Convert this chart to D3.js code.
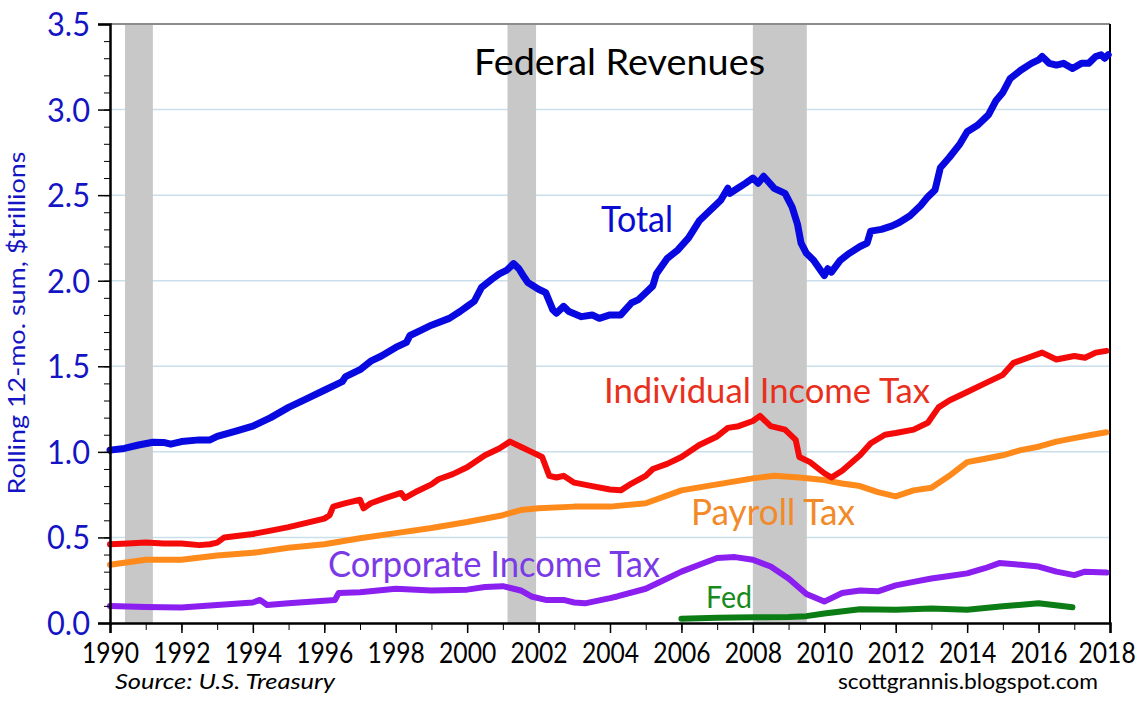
<!DOCTYPE html>
<html>
<head>
<meta charset="utf-8">
<script src="https://cdn.jsdelivr.net/npm/d3@7"></script>
<style>
  html, body { margin: 0; padding: 0; background: #ffffff; }
  svg { display: block; }
  text { font-family: Lato, "Open Sans", sans-serif; }
</style>
</head>
<body>
<svg id="chart" width="1142" height="714"></svg>
<script>
// ---------------- DATA ----------------
const title = "Federal Revenues";
const yAxisTitle = "Rolling 12-mo. sum, $trillions";
const sourceText = "Source:  U.S. Treasury";
const creditText = "scottgrannis.blogspot.com";

const yTickValues = [0, 0.5, 1.0, 1.5, 2.0, 2.5, 3.0, 3.5];
const yTickLabels = ["0.0", "0.5", "1.0", "1.5", "2.0", "2.5", "3.0", "3.5"];
const xTickYears = [1990, 1992, 1994, 1996, 1998, 2000, 2002, 2004, 2006, 2008, 2010, 2012, 2014, 2016, 2018];

const recessions = [[1990.42, 1991.2], [2001.13, 2001.93], [2008.0, 2009.51]];

// [year, $trillions]
const totalRevenue = [
  [1990.0,1.01],[1990.4,1.02],[1990.8,1.04],[1991.2,1.056],[1991.5,1.055],[1991.7,1.045],
  [1992.0,1.06],[1992.5,1.07],[1992.8,1.07],[1993.0,1.09],[1993.5,1.12],[1994.0,1.15],
  [1994.5,1.20],[1995.0,1.26],[1995.5,1.31],[1996.0,1.36],[1996.3,1.39],[1996.5,1.41],
  [1996.6,1.44],[1997.0,1.48],[1997.3,1.53],[1997.6,1.56],[1998.0,1.61],[1998.3,1.64],
  [1998.4,1.68],[1998.7,1.71],[1999.0,1.74],[1999.5,1.78],[1999.8,1.82],[2000.0,1.85],
  [2000.2,1.88],[2000.4,1.96],[2000.7,2.01],[2000.9,2.04],[2001.1,2.06],[2001.3,2.10],
  [2001.45,2.07],[2001.6,2.02],[2001.7,1.99],[2002.0,1.95],[2002.2,1.93],[2002.4,1.83],
  [2002.5,1.81],[2002.7,1.85],[2002.85,1.82],[2003.2,1.79],[2003.5,1.80],[2003.7,1.78],
  [2004.0,1.80],[2004.3,1.80],[2004.6,1.87],[2004.8,1.89],[2005.0,1.93],[2005.2,1.97],
  [2005.3,2.04],[2005.6,2.13],[2005.9,2.18],[2006.2,2.25],[2006.5,2.35],[2006.8,2.41],
  [2007.1,2.47],[2007.3,2.54],[2007.35,2.51],[2007.5,2.53],[2007.8,2.57],[2008.0,2.60],
  [2008.15,2.57],[2008.3,2.61],[2008.6,2.54],[2008.9,2.51],[2009.1,2.43],[2009.25,2.33],
  [2009.35,2.22],[2009.5,2.16],[2009.7,2.12],[2009.9,2.06],[2010.0,2.03],[2010.1,2.07],
  [2010.2,2.05],[2010.45,2.12],[2010.7,2.16],[2011.0,2.20],[2011.2,2.22],[2011.3,2.29],
  [2011.6,2.30],[2011.9,2.32],[2012.1,2.34],[2012.4,2.38],[2012.7,2.44],[2012.9,2.49],
  [2013.1,2.53],[2013.25,2.66],[2013.5,2.72],[2013.8,2.80],[2014.0,2.87],[2014.3,2.91],
  [2014.5,2.95],[2014.6,2.97],[2014.8,3.05],[2015.0,3.10],[2015.2,3.18],[2015.5,3.23],
  [2015.8,3.27],[2016.0,3.29],[2016.1,3.31],[2016.3,3.27],[2016.5,3.26],[2016.7,3.27],
  [2016.95,3.24],[2017.2,3.27],[2017.4,3.27],[2017.6,3.31],[2017.75,3.32],[2017.85,3.30],
  [2017.95,3.32]
];

const individualIncomeTax = [
  [1990.0,0.46],[1990.5,0.465],[1991.0,0.47],[1991.5,0.465],[1992.0,0.465],[1992.5,0.455],
  [1992.8,0.46],[1993.0,0.47],[1993.2,0.50],[1993.6,0.51],[1994.0,0.52],[1994.5,0.54],
  [1995.0,0.56],[1995.5,0.585],[1996.0,0.61],[1996.15,0.63],[1996.25,0.68],[1996.6,0.70],
  [1997.0,0.72],[1997.1,0.67],[1997.3,0.70],[1997.7,0.73],[1998.0,0.75],[1998.15,0.76],
  [1998.25,0.73],[1998.6,0.77],[1999.0,0.81],[1999.2,0.84],[1999.6,0.87],[2000.0,0.91],
  [2000.5,0.98],[2000.9,1.02],[2001.2,1.06],[2001.5,1.03],[2001.8,1.00],[2002.1,0.97],
  [2002.3,0.86],[2002.5,0.85],[2002.7,0.86],[2003.0,0.82],[2003.5,0.80],[2004.0,0.78],
  [2004.3,0.775],[2004.6,0.815],[2005.0,0.86],[2005.2,0.90],[2005.6,0.93],[2006.0,0.97],
  [2006.5,1.04],[2007.0,1.09],[2007.3,1.14],[2007.6,1.15],[2008.0,1.18],[2008.2,1.21],
  [2008.5,1.15],[2008.9,1.13],[2009.2,1.07],[2009.3,0.97],[2009.6,0.94],[2010.0,0.875],
  [2010.2,0.85],[2010.5,0.89],[2011.0,0.98],[2011.3,1.05],[2011.7,1.10],[2012.0,1.11],
  [2012.5,1.13],[2012.9,1.17],[2013.2,1.26],[2013.5,1.30],[2014.0,1.35],[2014.5,1.40],
  [2015.0,1.45],[2015.3,1.52],[2015.7,1.55],[2016.1,1.58],[2016.5,1.54],[2017.0,1.56],
  [2017.3,1.55],[2017.6,1.58],[2017.9,1.59]
];

const payrollTax = [
  [1990.0,0.34],[1991.0,0.37],[1992.0,0.37],[1993.0,0.395],[1994.0,0.41],[1995.0,0.44],
  [1996.0,0.46],[1997.0,0.495],[1998.0,0.525],[1999.0,0.555],[2000.0,0.59],[2001.0,0.63],
  [2001.5,0.66],[2002.0,0.67],[2003.0,0.68],[2004.0,0.68],[2005.0,0.70],[2006.0,0.775],
  [2007.0,0.81],[2008.0,0.845],[2008.6,0.86],[2009.3,0.85],[2010.0,0.835],[2010.5,0.815],
  [2011.0,0.80],[2011.5,0.765],[2012.0,0.74],[2012.5,0.775],[2013.0,0.79],[2013.5,0.86],
  [2014.0,0.94],[2014.5,0.96],[2015.0,0.98],[2015.5,1.01],[2016.0,1.03],[2016.5,1.06],
  [2017.0,1.08],[2017.5,1.10],[2017.9,1.115]
];

const corporateIncomeTax = [
  [1990.0,0.10],[1991.0,0.093],[1992.0,0.09],[1993.0,0.105],[1994.0,0.12],[1994.2,0.135],
  [1994.4,0.105],[1995.0,0.115],[1996.0,0.13],[1996.3,0.135],[1996.4,0.175],[1997.0,0.18],
  [1998.0,0.20],[1999.0,0.19],[2000.0,0.195],[2000.5,0.21],[2001.0,0.215],[2001.5,0.19],
  [2001.8,0.155],[2002.2,0.135],[2002.7,0.135],[2003.0,0.12],[2003.3,0.115],[2004.0,0.145],
  [2004.2,0.155],[2005.0,0.20],[2005.5,0.25],[2006.0,0.30],[2006.5,0.34],[2007.0,0.38],
  [2007.5,0.385],[2008.0,0.37],[2008.5,0.33],[2009.0,0.26],[2009.5,0.17],[2010.0,0.125],
  [2010.5,0.175],[2011.0,0.19],[2011.5,0.185],[2012.0,0.22],[2012.5,0.24],[2013.0,0.26],
  [2013.5,0.275],[2014.0,0.29],[2014.5,0.32],[2014.9,0.35],[2015.5,0.34],[2016.0,0.33],
  [2016.5,0.30],[2017.0,0.28],[2017.3,0.30],[2017.9,0.295]
];

const fedRemittances = [
  [2006.0,0.025],[2007.0,0.03],[2008.0,0.033],[2009.0,0.035],[2009.5,0.04],[2010.0,0.055],
  [2011.0,0.08],[2012.0,0.078],[2013.0,0.085],[2014.0,0.078],[2015.0,0.098],[2016.0,0.115],
  [2016.95,0.092]
];

// ---------------- CHART ----------------
const svg = d3.select("#chart");
const x = d3.scaleLinear().domain([1990, 2018]).range([110, 1110]);
const y = d3.scaleLinear().domain([0, 3.5]).range([623, 24]);

const blueText = "#1414c4";

// gridlines
svg.append("g").selectAll("line")
  .data(yTickValues.filter(v => v > 0 && v < 3.5))
  .join("line")
  .attr("x1", x(1990)).attr("x2", x(2018))
  .attr("y1", d => y(d)).attr("y2", d => y(d))
  .attr("stroke", "#c9e0ec").attr("stroke-width", 1.5);

// recession bars
svg.append("g").selectAll("rect")
  .data(recessions)
  .join("rect")
  .attr("x", d => x(d[0]))
  .attr("width", d => x(d[1]) - x(d[0]))
  .attr("y", y(3.5))
  .attr("height", y(0) - y(3.5))
  .attr("fill", "#c8c8c8");

// frame: top gray, right black
svg.append("line").attr("x1", x(1990)).attr("x2", x(2018)).attr("y1", y(3.5)).attr("y2", y(3.5))
  .attr("stroke", "#8c8c8c").attr("stroke-width", 2);
svg.append("line").attr("x1", x(2018)).attr("x2", x(2018)).attr("y1", y(3.5)).attr("y2", y(0))
  .attr("stroke", "#000").attr("stroke-width", 2);

// lines
const line = d3.line().x(d => x(d[0])).y(d => y(d[1])).curve(d3.curveLinear);
const series = [
  { data: totalRevenue, color: "#0808e0", width: 7 },
  { data: payrollTax, color: "#ff8a1c", width: 6 },
  { data: individualIncomeTax, color: "#f50a0a", width: 6 },
  { data: corporateIncomeTax, color: "#8a1ff0", width: 6 },
  { data: fedRemittances, color: "#0c7c14", width: 6 }
];
svg.append("g").selectAll("path")
  .data(series)
  .join("path")
  .attr("d", d => line(d.data))
  .attr("fill", "none")
  .attr("stroke", d => d.color)
  .attr("stroke-width", d => d.width)
  .attr("stroke-linejoin", "round")
  .attr("stroke-linecap", "round");

// y axis minor ticks
const yMinor = d3.axisLeft(y).tickValues(d3.range(0, 3.5001, 0.1)).tickSize(6).tickFormat("");
svg.append("g").attr("transform", `translate(${x(1990)},0)`).call(yMinor)
  .call(g => g.select(".domain").remove())
  .call(g => g.selectAll("line").attr("stroke", "#000").attr("stroke-width", 1));

// y axis major
const yAxis = d3.axisLeft(y).tickValues(yTickValues).tickSize(12).tickPadding(8)
  .tickFormat((d, i) => yTickLabels[i]);
svg.append("g").attr("transform", `translate(${x(1990)},0)`).call(yAxis)
  .call(g => g.select(".domain").attr("stroke", "#000").attr("stroke-width", 2.5))
  .call(g => g.selectAll(".tick line").attr("stroke", "#000").attr("stroke-width", 1.5))
  .call(g => g.selectAll(".tick text")
    .attr("fill", blueText)
    .style("font-size", "32px")
    .style("font-family", "Lato, sans-serif")
    .attr("dy", "0.36em")
    .attr("textLength", 43)
    .attr("lengthAdjust", "spacingAndGlyphs"));

// x axis minor
const xMinor = d3.axisBottom(x).tickValues(d3.range(1990, 2019, 1)).tickSize(7).tickFormat("");
svg.append("g").attr("transform", `translate(0,${y(0)})`).call(xMinor)
  .call(g => g.select(".domain").remove())
  .call(g => g.selectAll("line").attr("stroke", "#000").attr("stroke-width", 1));

// x axis major (labels horizontally condensed with a scale transform)
const xAxis = d3.axisBottom(x).tickValues(xTickYears).tickSize(10).tickFormat(d3.format("d"));
svg.append("g").attr("transform", `translate(0,${y(0)})`).call(xAxis)
  .call(g => g.select(".domain").attr("stroke", "#000").attr("stroke-width", 2.5))
  .call(g => g.selectAll(".tick line").attr("stroke", "#000").attr("stroke-width", 1.5))
  .call(g => g.selectAll(".tick text")
    .attr("fill", "#000")
    .attr("y", 40).attr("dy", 0)
    .attr("x", d => d === 2018 ? -4 : 0)
    .attr("transform", "scale(0.85,1)")
    .style("font-size", "29px")
    .style("font-family", "Lato, sans-serif"));

// text helper
function label(txt, xPos, yPos, size, color, len, opts = {}) {
  const t = svg.append("text")
    .attr("x", xPos).attr("y", yPos)
    .attr("fill", color)
    .style("font-size", size + "px")
    .text(txt);
  if (len) t.attr("textLength", len).attr("lengthAdjust", "spacingAndGlyphs");
  if (opts.italic) t.style("font-style", "italic");
  if (opts.anchor) t.attr("text-anchor", opts.anchor);
  if (opts.transform) t.attr("transform", opts.transform);
  return t;
}

// title
label(title, 474, 75, 37, "#000", 291);

// y axis title (rotated)
label(yAxisTitle, 0, 0, 24, blueText, 343, { anchor: "middle", transform: "translate(25,323) rotate(-90)" });

// series labels
label("Total", 601, 232, 37, "#0a0ad0", 72);
label("Individual Income Tax", 604, 403, 35, "#e8301c", 326);
label("Payroll Tax", 691, 525, 36, "#f28a2a", 164);
label("Corporate Income Tax", 328, 577, 37, "#7a3ae6", 332);
label("Fed", 706, 608, 30, "#178a1c", 46);

// footer
label(sourceText, 115, 689, 21, "#000", 220, { italic: true });
label(creditText, 838, 689, 21, "#000", 260);
</script>
</body>
</html>
